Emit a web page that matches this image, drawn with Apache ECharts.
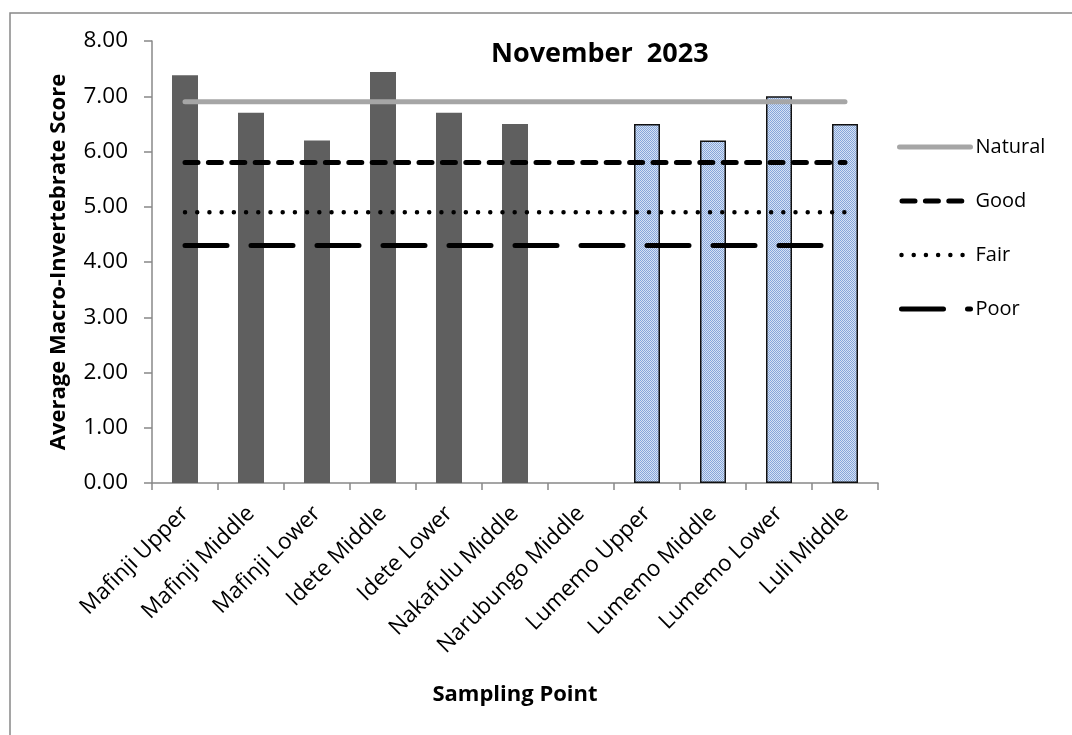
<!DOCTYPE html>
<html>
<head>
<meta charset="utf-8">
<script src="https://cdn.jsdelivr.net/npm/echarts@6/dist/echarts.min.js"></script>
<style>
    html, body { margin: 0; padding: 0; background: #fff; }
    #chart { width: 1072px; height: 735px; }
</style>
</head>
<body>
<div id="chart"></div>
<script>
var categories = ['Mafinji Upper', 'Mafinji Middle', 'Mafinji Lower', 'Idete Middle', 'Idete Lower',
    'Nakafulu Middle', 'Narubungo Middle', 'Lumemo Upper', 'Lumemo Middle', 'Lumemo Lower', 'Luli Middle'];
var scores = [7.38, 6.7, 6.2, 7.44, 6.7, 6.5, null, 6.5, 6.2, 7.0, 6.5];
// first index of the Lumemo / Luli sites (drawn with the blue pattern)
var lumemoFrom = 7;

var natural = [6.9, 6.9, 6.9, 6.9, 6.9, 6.9, 6.9, 6.9, 6.9, 6.9, 6.9];
var good = [5.8, 5.8, 5.8, 5.8, 5.8, 5.8, 5.8, 5.8, 5.8, 5.8, 5.8];
var fair = [4.9, 4.9, 4.9, 4.9, 4.9, 4.9, 4.9, 4.9, 4.9, 4.9, 4.9];
var poor = [4.3, 4.3, 4.3, 4.3, 4.3, 4.3, 4.3, 4.3, 4.3, 4.3, 4.3];

var FONT = 'Open Sans';

// small checker pattern for the blue bars
var pat = document.createElement('canvas');
pat.width = 2; pat.height = 2;
var pc = pat.getContext('2d');
pc.fillStyle = '#d6e2f4'; pc.fillRect(0, 0, 2, 2);
pc.fillStyle = '#86a6da'; pc.fillRect(0, 0, 1, 1); pc.fillRect(1, 1, 1, 1);

var barData = scores.map(function (v, i) {
    if (i >= lumemoFrom) {
        return {
            value: v,
            itemStyle: {
                color: { image: pat, repeat: 'repeat' },
                borderColor: '#111',
                borderWidth: 1.5
            }
        };
    }
    return v;
});

function lineSeries(name, data, style) {
    return {
        name: name,
        type: 'line',
        data: data,
        symbol: 'none',
        z: 3,
        silent: true,
        lineStyle: style
    };
}

var myChart = echarts.init(document.getElementById('chart'));
var option = {
    animation: false,
    backgroundColor: '#fff',
    title: {
        text: 'November  2023',
        left: 491,
        top: 41,
        padding: 0,
        textStyle: { fontFamily: FONT, fontSize: 27, fontWeight: 'bold', color: '#000' }
    },
    graphic: [{
        type: 'rect',
        shape: { x: 10, y: 13, width: 1200, height: 900 },
        style: { fill: 'none', stroke: '#888', lineWidth: 1.5 },
        silent: true,
        z: -1
    }],
    legend: {
        orient: 'vertical',
        left: 897,
        top: 137,
        itemWidth: 71,
        itemHeight: 14,
        itemGap: 34,
        padding: 0,
        data: [
            'Natural',
            { name: 'Good', lineStyle: { dashOffset: -2.5 } },
            { name: 'Fair', lineStyle: { dashOffset: -2 } },
            'Poor'
        ],
        lineStyle: { width: 'inherit' },
        itemStyle: { opacity: 0 },
        textStyle: { fontFamily: FONT, fontSize: 20, color: '#000' }
    },
    grid: {
        left: 152,
        right: 194,
        top: 41,
        bottom: 252,
        containLabel: false
    },
    xAxis: {
        type: 'category',
        data: categories,
        name: 'Sampling Point',
        nameLocation: 'middle',
        nameGap: 201,
        nameTextStyle: { fontFamily: FONT, fontSize: 22, fontWeight: 'bold', color: '#000' },
        axisLine: { lineStyle: { color: '#888', width: 1.5 } },
        axisTick: { show: true, length: 7, lineStyle: { color: '#888', width: 1.5 } },
        axisLabel: {
            interval: 0,
            rotate: 45,
            margin: 27,
            fontFamily: FONT,
            fontSize: 22.5,
            color: '#000'
        },
        splitLine: { show: false }
    },
    yAxis: {
        type: 'value',
        min: 0,
        max: 8,
        interval: 1,
        name: 'Average Macro-Invertebrate Score',
        nameLocation: 'middle',
        nameRotate: 90,
        nameGap: 82,
        nameTextStyle: { fontFamily: FONT, fontSize: 22, fontWeight: 'bold', color: '#000' },
        axisLine: { show: true, lineStyle: { color: '#888', width: 1.5 } },
        axisTick: { show: true, length: 8, lineStyle: { color: '#888', width: 1.5 } },
        axisLabel: {
            margin: 24,
            fontFamily: FONT,
            fontSize: 22.5,
            color: '#000',
            formatter: function (v) { return v.toFixed(2); }
        },
        splitLine: { show: false }
    },
    series: [
        {
            name: 'Score',
            type: 'bar',
            data: barData,
            barWidth: 26,
            z: 2,
            itemStyle: { color: '#5f5f5f' }
        },
        lineSeries('Natural', natural, { color: '#a6a6a6', width: 5, cap: 'round' }),
        lineSeries('Good', good, { color: '#000', width: 5, type: [13, 10.4], cap: 'round' }),
        lineSeries('Fair', fair, { color: '#000', width: 4.5, type: [0.01, 12.2], cap: 'round' }),
        lineSeries('Poor', poor, { color: '#000', width: 5, type: [42, 24], cap: 'round' })
    ]
};
myChart.setOption(option);
</script>
</body>
</html>
